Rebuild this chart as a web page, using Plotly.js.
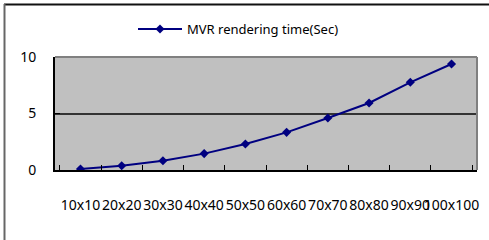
<!DOCTYPE html>
<html>
<head>
<meta charset="utf-8">
<script src="https://cdn.plot.ly/plotly-3.0.1.min.js"></script>
<style>html,body{margin:0;padding:0;background:#fff;}#chart{width:489px;height:240px;}</style>
</head>
<body>
<div id="chart"></div>
<script>
const categories = ["10x10","20x20","30x30","40x40","50x50","60x60","70x70","80x80","90x90","100x100"];
const renderTime = [0.09, 0.38, 0.82, 1.45, 2.3, 3.33, 4.6, 5.93, 7.76, 9.38];
const seriesName = "MVR rendering time(Sec)";
const yTicks = [0, 5, 10];

const W = 489, H = 240;
const m = {l: 55, r: 12, t: 57, b: 70};
const pw = W - m.l - m.r, ph = H - m.t - m.b;
const px = x => (x - m.l) / pw;
const py = y => (H - m.b - y) / ph;

const trace = {
  type: 'scatter', mode: 'lines+markers', name: seriesName,
  x: categories, y: renderTime,
  line: {color: '#000080', width: 2},
  marker: {symbol: 'diamond', size: 7, color: '#000080'}
};

const layout = {
  width: W, height: H, margin: m,
  paper_bgcolor: '#ffffff', plot_bgcolor: '#c0c0c0',
  font: {family: 'Noto Sans', size: 14, color: '#000'},
  showlegend: true,
  legend: {orientation: 'h', x: px(133), xanchor: 'left', y: py(29), yanchor: 'middle',
           itemwidth: 44, bgcolor: 'rgba(0,0,0,0)', font: {size: 13}},
  xaxis: {type: 'category', tickangle: 0, tickson: 'boundaries', ticks: 'inside', ticklen: 5,
          tickcolor: '#000', tickwidth: 1, showline: true, linecolor: '#000', linewidth: 2,
          showgrid: false, ticklabelstandoff: 21, fixedrange: true, tickfont: {size: 14}},
  yaxis: {range: [0, 10.0001], tickvals: yTicks, ticktext: yTicks.map(String), ticks: 'inside', ticklen: 5,
          tickcolor: '#000', tickwidth: 1, showline: true, linecolor: '#000', linewidth: 2,
          showgrid: true, gridcolor: '#333', gridwidth: 2, zeroline: false,
          ticklabelstandoff: 14, fixedrange: true, tickfont: {size: 14}},
  shapes: [
    {type: 'line', xref: 'paper', yref: 'paper', x0: 0, x1: 1, y0: 1, y1: 1, line: {color: '#808080', width: 2}, layer: 'above'},
    {type: 'line', xref: 'paper', yref: 'paper', x0: 1, x1: 1, y0: 0, y1: 1, line: {color: '#808080', width: 2}, layer: 'above'},
    {type: 'line', xref: 'paper', yref: 'paper', x0: px(4), x1: px(489), y0: py(4.5), y1: py(4.5), line: {color: '#111', width: 2}, layer: 'above'},
    {type: 'line', xref: 'paper', yref: 'paper', x0: px(4.5), x1: px(4.5), y0: py(4), y1: py(240), line: {color: '#666', width: 2}, layer: 'above'}
  ]
};

Plotly.newPlot('chart', [trace], layout, {displayModeBar: false, staticPlot: true});
</script>
</body>
</html>
